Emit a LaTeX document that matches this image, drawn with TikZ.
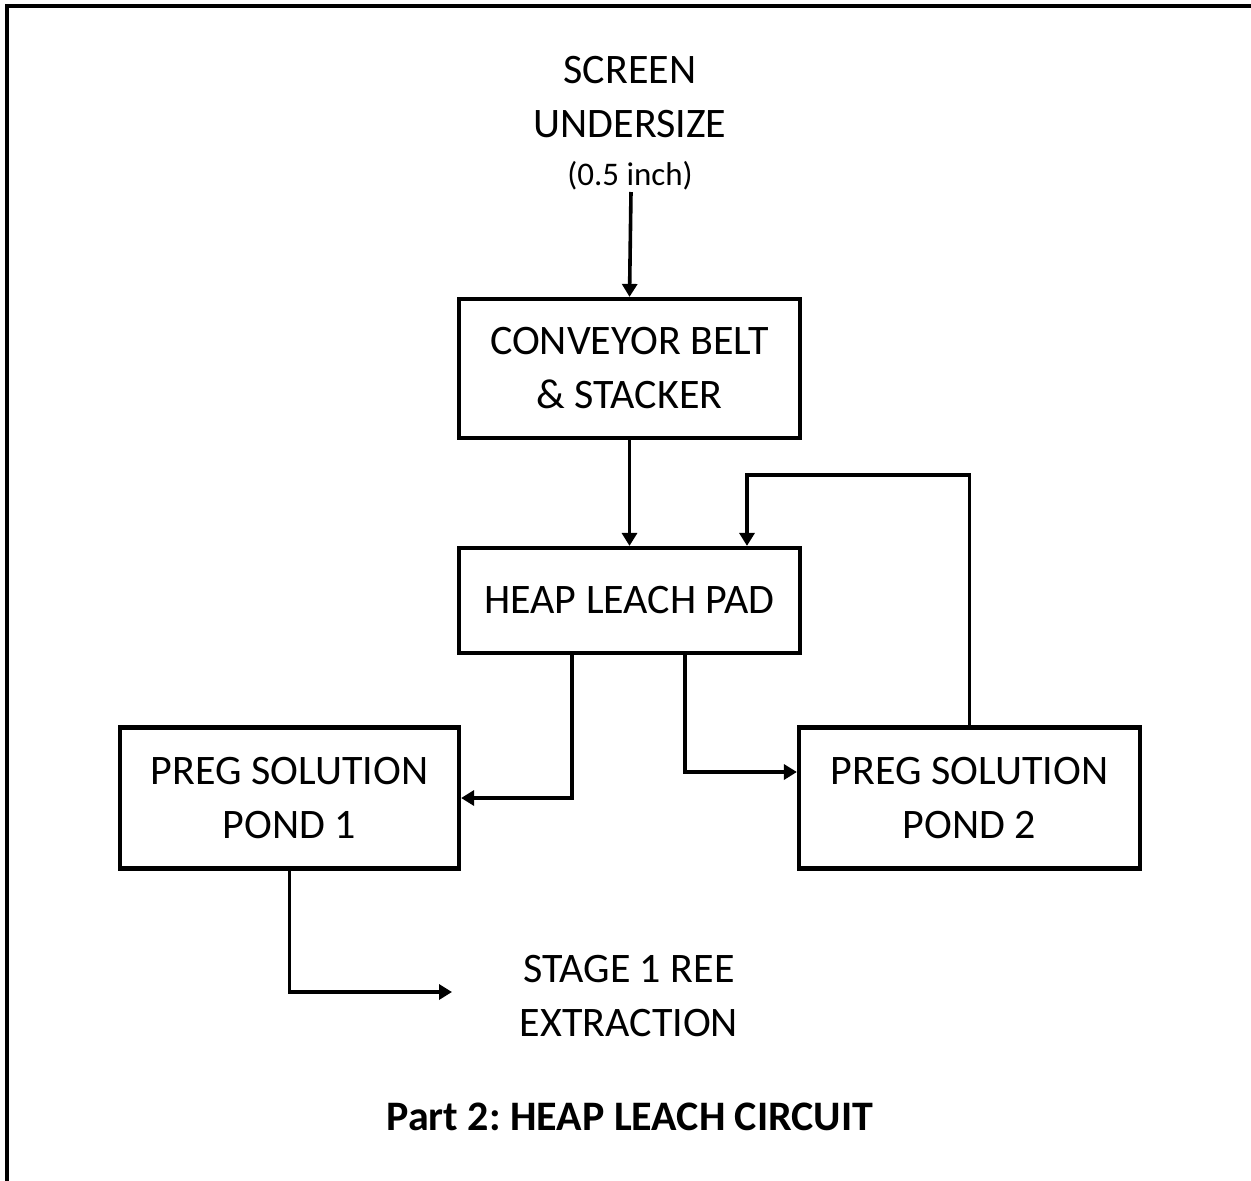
\documentclass[tikz,border=0pt]{standalone}
\usepackage{fontspec}
\setmainfont{Carlito}
\usetikzlibrary{arrows.meta}
\begin{document}
\frenchspacing
\begin{tikzpicture}[x=1pt,y=-1pt,
  box/.style={draw,line width=4.2pt,inner sep=0pt,align=center,font=\fontsize{42}{54}\selectfont},
  lbl/.style={inner sep=0pt,align=center,font=\fontsize{42}{54}\selectfont},
  arr/.style={line width=3.6pt,-{Triangle[length=13pt,width=15pt]}},
  conn/.style={line width=4pt}]
\useasboundingbox (0,0) rectangle (1251,1181);
\draw[conn] (7,1181) -- (7,6) -- (1251,6);
\node[lbl,anchor=north] (src) at (630,56) {SCREEN\\UNDERSIZE\\[-6pt]{\fontsize{33}{54}\selectfont(0.5 inch)}};
\node[box,minimum width=341pt,minimum height=139pt] (conv) at (629.5,368.5) {CONVEYOR BELT\\\&\ STACKER};
\node[box,minimum width=341pt,minimum height=105pt] (heap) at (629.5,600.5) {HEAP LEACH PAD};
\node[box,minimum width=339pt,minimum height=141pt] (pond1) at (289.5,798) {PREG SOLUTION\\POND 1};
\node[box,minimum width=341pt,minimum height=141pt] (pond2) at (969.5,798) {PREG SOLUTION\\POND 2};
\node[lbl] (stage) at (629,996) {STAGE 1 REE\\EXTRACTION};
\node[lbl,anchor=base,font=\bfseries\fontsize{42}{54}\selectfont] (title) at (630,1130) {Part 2: HEAP LEACH CIRCUIT};
\coordinate (fb) at (747,475);
\coordinate (stagein) at (452,992);
\draw[arr] (631,192) -- (conv.north);
\draw[arr] (conv.south) -- (heap.north);
\draw[arr] ([xshift=-57.5pt]heap.south) |- (pond1.east);
\draw[arr] ([xshift=55.5pt]heap.south) |- ([yshift=26pt]pond2.west);
\draw[arr] (pond2.north) |- (fb) -- (fb |- heap.north);
\draw[arr] (pond1.south) |- (stagein);
\end{tikzpicture}
\end{document}
